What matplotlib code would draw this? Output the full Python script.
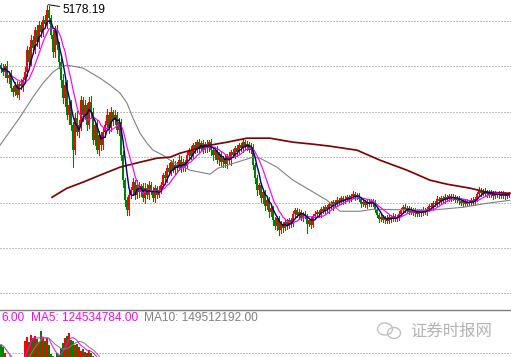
import numpy as np
import pandas as pd
import matplotlib
matplotlib.use("Agg")
import matplotlib.pyplot as plt
from matplotlib.lines import Line2D
from matplotlib.patches import Ellipse
from matplotlib.transforms import IdentityTransform

# ---------------- data ----------------
close = [
    4480, 4436, 4502, 4370, 4403, 4260, 4216, 4293, 4183, 4304,
    4282, 4348, 4436, 4678, 4546, 4788, 4700, 4898, 4766, 4953,
    4876, 5008, 4964, 5118, 5030, 4843, 4656, 4898, 4733, 4546,
    4348, 4150, 4293, 3963, 4073, 3853, 3578, 3930, 3776, 3853,
    4128, 3963, 4073, 3853, 4106, 3996, 3688, 3853, 3578, 3743,
    3633, 3776, 3853, 3963, 3820, 3996, 3908, 3963, 3798, 3886,
    3523, 3248, 3028, 2918, 3083, 3138, 3226, 3083, 3193, 3116,
    3182, 3050, 3160, 3083, 3193, 3116, 3050, 3160, 3083, 3138,
    3193, 3303, 3270, 3380, 3336, 3446, 3358, 3413, 3380, 3468,
    3380, 3446, 3402, 3523, 3578, 3512, 3633, 3578, 3666, 3600,
    3655, 3578, 3644, 3600, 3666, 3578, 3523, 3578, 3468, 3534,
    3446, 3490, 3424, 3512, 3468, 3556, 3523, 3600, 3556, 3633,
    3600, 3666, 3611, 3644, 3578, 3611, 3413, 3270, 3138, 3193,
    3050, 3116, 2962, 3028, 2896, 2940, 2808, 2742, 2830, 2698,
    2764, 2720, 2786, 2742, 2808, 2764, 2874, 2918, 2863, 2896,
    2830, 2874, 2852, 2764, 2808, 2753, 2852, 2874, 2896, 2874,
    2929, 2907, 2951, 2929, 2984, 2962, 3006, 2984, 3028, 3006,
    3050, 3017, 3039, 3061, 3039, 3072, 3094, 3061, 3083, 3039,
    2984, 3006, 2973, 3006, 2984, 3017, 2995, 2918, 2863, 2819,
    2841, 2808, 2830, 2797, 2841, 2819, 2852, 2819, 2841, 2874,
    2918, 2951, 2918, 2940, 2896, 2918, 2885, 2907, 2874, 2907,
    2885, 2918, 2896, 2929, 2962, 2951, 2995, 2984, 3039, 3017,
    3050, 3028, 3061, 3039, 3072, 3050, 3061, 3028, 3050, 3017,
    2995, 3017, 2984, 3006, 2995, 3028, 3006, 3039, 3094, 3138,
    3105, 3127, 3094, 3116, 3083, 3105, 3072, 3094, 3083, 3105,
    3072, 3094, 3072, 3083, 3094,
]
first_open = 4510

upper_shadow = [
    30, 40, 20, 50, 30, 60, 20, 30, 40, 20,
    50, 30, 60, 40, 30, 50, 40, 30, 60, 40,
    30, 40, 50, 60, 40, 30, 60, 40, 50, 30,
    40, 70, 30, 50, 40, 60, 30, 60, 80, 50,
    40, 30, 60, 20, 50, 70, 40, 30, 60, 40,
    30, 60, 40, 70, 30, 50, 20, 60, 30, 40,
    30, 40, 20, 30, 50, 30, 40, 20, 60, 30,
    20, 30, 50, 40, 40, 30, 50, 30, 20, 40,
    30, 20, 40, 30, 50, 20, 30, 40, 30, 60,
    40, 30, 20, 30, 20, 40, 20, 30, 20, 30,
    20, 30, 20, 40, 20, 30, 20, 30, 40, 20,
    30, 20, 30, 20, 40, 20, 30, 20, 30, 20,
    20, 30, 20, 30, 20, 40, 30, 20, 30, 20,
    20, 30, 20, 20, 30, 20, 20, 30, 20, 20,
    30, 20, 20, 30, 20, 20, 30, 20, 20, 30,
    20, 20, 30, 20, 20, 30, 20, 30, 20, 20,
    20, 30, 20, 20, 20, 30, 20, 20, 30, 20,
    20, 20, 30, 20, 20, 20, 30, 20, 20, 20,
    20, 30, 20, 20, 30, 20, 20, 30, 20, 20,
    30, 20, 20, 30, 20, 20, 30, 20, 20, 30,
    20, 20, 30, 20, 20, 30, 20, 30, 20, 20,
    20, 30, 20, 20, 20, 30, 20, 20, 30, 20,
    20, 20, 30, 20, 20, 20, 30, 20, 20, 20,
    30, 20, 20, 30, 20, 20, 30, 20, 20, 30,
    20, 20, 30, 20, 20, 30, 20, 30, 20, 20,
    20, 30, 20, 20, 20,
]
lower_shadow = [
    40, 30, 60, 40, 50, 30, 40, 30, 20, 40,
    30, 50, 30, 40, 60, 30, 50, 60, 40, 70,
    50, 40, 30, 40, 60, 30, 50, 60, 40, 70,
    80, 60, 90, 40, 100, 60, 187, 40, 30, 60,
    50, 70, 40, 60, 30, 50, 40, 60, 30, 50,
    60, 40, 50, 40, 60, 30, 50, 40, 30, 50,
    60, 80, 70, 55, 60, 30, 50, 40, 30, 50,
    40, 30, 60, 30, 40, 20, 30, 40, 30, 20,
    30, 20, 30, 40, 20, 30, 20, 40, 30, 20,
    40, 30, 60, 20, 40, 30, 20, 30, 20, 40,
    20, 30, 20, 40, 30, 50, 60, 40, 30, 50,
    40, 60, 30, 40, 30, 50, 20, 30, 40, 20,
    30, 40, 20, 30, 20, 30, 40, 60, 50, 40,
    40, 60, 40, 30, 50, 40, 60, 30, 40, 55,
    30, 40, 20, 30, 20, 30, 20, 30, 20, 30,
    20, 30, 20, 99, 20, 30, 20, 30, 20, 30,
    30, 20, 20, 30, 40, 30, 40, 30, 20, 30,
    20, 30, 20, 20, 30, 20, 20, 30, 20, 20,
    30, 20, 20, 30, 20, 20, 30, 20, 20, 30,
    20, 20, 30, 20, 20, 30, 20, 20, 20, 30,
    20, 30, 20, 20, 20, 20, 20, 30, 20, 20,
    30, 20, 20, 30, 20, 20, 30, 20, 20, 30,
    20, 20, 30, 20, 20, 30, 20, 20, 20, 30,
    20, 30, 20, 20, 20, 20, 20, 30, 20, 20,
    30, 20, 20, 30, 20, 20, 30, 20, 20, 30,
    20, 20, 30, 20, 20,
]

# volume, in 1e8 shares
volume = [
    9.9, 9.6, 9.0, 8.2, 7.8, 7.2, 7.0, 7.2, 7.5, 7.8,
    8.2, 8.5, 10.3, 10.8, 10.2, 11.0, 10.6, 10.9, 10.5, 10.2,
    11.4, 10.8, 10.3, 10.6, 9.8, 8.8, 8.6, 8.4, 8.9, 8.7,
    9.5, 10.1, 10.6, 10.9, 11.2, 10.4, 10.3, 9.9, 10.0, 9.6,
    9.2, 9.4, 9.1, 8.9, 9.3, 9.0, 8.6, 8.0, 7.4, 7.0,
    6.5, 6.0, 5.6, 5.2, 5.0, 4.8, 4.5, 4.6, 4.4, 5.0,
    6.2, 6.8, 6.0, 5.0, 4.5, 4.2, 3.9, 3.7, 3.5, 3.3,
    3.2, 3.0, 2.9, 2.8, 3.0, 2.7, 2.6, 2.7, 2.8, 2.6,
    3.0, 3.4, 3.6, 3.2, 3.5, 3.3, 3.6, 3.4, 3.8, 3.5,
    3.6, 3.9, 3.7, 4.2, 4.0, 3.8, 4.1, 3.9, 3.6, 3.5,
    3.4, 3.3, 3.5, 3.2, 3.4, 3.3, 3.1, 3.0, 2.9, 3.0,
    2.9, 2.8, 3.0, 2.8, 2.9, 3.1, 3.2, 3.4, 3.3, 3.5,
    3.3, 3.5, 3.2, 3.0, 3.1, 2.9, 3.6, 4.0, 3.5, 3.0,
    2.6, 2.4, 2.2, 2.1, 2.0, 1.9, 2.0, 2.4, 2.1, 2.6,
    2.0, 1.8, 1.7, 1.8, 1.6, 1.7, 1.8, 1.9, 1.8, 1.7,
    1.7, 1.6, 1.8, 2.0, 1.6, 1.5, 1.6, 1.7, 1.8, 1.6,
    1.7, 1.8, 1.9, 1.8, 2.0, 1.9, 2.1, 2.0, 2.1, 2.0,
    2.0, 1.9, 2.1, 2.0, 1.8, 1.9, 2.0, 2.2, 2.0, 1.8,
    1.7, 1.6, 1.5, 1.6, 1.5, 1.7, 1.6, 1.8, 1.6, 1.4,
    1.3, 1.4, 1.3, 1.5, 1.4, 1.3, 1.4, 1.3, 1.5, 1.6,
    1.5, 1.4, 1.5, 1.3, 1.4, 1.4, 1.3, 1.5, 1.4, 1.4,
    1.4, 1.3, 1.5, 1.6, 1.7, 1.8, 1.6, 1.5, 1.4, 1.5,
    1.6, 1.5, 1.4, 1.3, 1.4, 1.5, 1.4, 1.3, 1.5, 1.4,
    1.3, 1.4, 1.3, 1.4, 1.5, 1.4, 1.3, 1.5, 1.6, 1.7,
    1.5, 1.4, 1.3, 1.4, 1.2, 1.3, 1.2, 1.3, 1.2, 1.2,
    1.3, 1.2, 1.1, 1.2, 1.3,
]

# long moving averages (candle index, level)
ma60_idx = [-0.5, 9.5, 16, 21, 26, 29.5, 33, 41, 49.5, 54.5, 59.5, 63, 66, 69.5,
            73, 76, 81, 86, 94.5, 99.5, 104.5, 108.5, 118, 126, 129.5, 138, 146,
            154.5, 163, 169.5, 179.5, 186, 214.5, 231, 243, 254.5]
ma60_val = [3631, 3939, 4160, 4314, 4435, 4490, 4512, 4479, 4369, 4292, 4204, 4094,
            3928, 3763, 3653, 3576, 3521, 3444, 3356, 3334, 3312, 3378, 3444, 3499,
            3488, 3389, 3246, 3136, 3025, 2904, 2904, 2926, 2915, 2948, 2992, 3025]
ma250_idx = [25.5, 33, 41, 49.5, 59.5, 69.5, 78, 84.5, 89.5, 104.5, 113, 123, 134.5,
             146, 156, 164.5, 178, 189.5, 203, 214.5, 223, 234.5, 243, 254.5]
ma250_val = [3058, 3158, 3224, 3301, 3389, 3444, 3488, 3499, 3543, 3631, 3664, 3708,
             3708, 3664, 3642, 3620, 3576, 3466, 3356, 3246, 3202, 3158, 3114, 3102]

grid_levels = [2000, 2500, 3000, 3500, 4000, 4500, 5000]
vol_grid = [9.0]
peak_label = "5178.19"
vol_texts = [("6.00", "#ff00ff"), ("MA5: 124534784.00", "#ff00ff"),
             ("MA10: 149512192.00", "#808080")]
watermark = "证券时报网"

# ---------------- derived ----------------
close = np.array(close, dtype=float)
n = len(close)
idx = np.arange(n)
opn = np.r_[first_open, close[:-1]]
high = np.maximum(opn, close) + np.array(upper_shadow)
low = np.minimum(opn, close) - np.array(lower_shadow)
up = close >= opn
cols = np.where(up, "#ff0000", "#008000")
ma5 = pd.Series(close).rolling(5, min_periods=1).mean()
ma10 = pd.Series(close).rolling(10, min_periods=1).mean()
vol = np.array(volume) * 1e8
vma5 = pd.Series(vol).rolling(5, min_periods=1).mean()
vma10 = pd.Series(vol).rolling(10, min_periods=1).mean()

W, H = 511, 357
STEP = 2.0  # pixels per candle
fig = plt.figure(figsize=(W / 100, H / 100), dpi=100)
fig.patch.set_facecolor("white")

PX = 0.72  # one pixel in points

# main price panel
ax = fig.add_axes([0, 1 - 310 / H, 1, 310 / H])
ax.set_xlim(-0.5, -0.5 + W / STEP)
ax.set_ylim(5228 - 11.0 * 310, 5228)
for s in ax.spines.values():
    s.set_visible(False)
ax.set_xticks([])
ax.set_yticks(grid_levels)
ax.tick_params(left=False, labelleft=False)
ax.yaxis.grid(True, linestyle=(0, (1, 2)), color="#808080", linewidth=PX)
ax.set_axisbelow(True)

ax.vlines(idx, low, high, colors=cols, linewidth=PX, antialiased=False)
ax.vlines(idx, opn, close, colors=cols, linewidth=1.5 * PX, antialiased=False)

ax.plot(ma60_idx, ma60_val, color="#808080", linewidth=1.1 * PX)
ax.plot(ma250_idx, ma250_val, color="#800000", linewidth=1.7 * PX)
ax.plot(idx, ma10, color="#ff00ff", linewidth=1.2 * PX)
ax.plot(idx, ma5, color="#000080", linewidth=1.4 * PX)

pk = int(np.argmax(high))
ax.annotate(peak_label, xy=(idx[pk], high[pk]), xytext=(11, -4),
            textcoords="offset points", va="center", ha="left",
            fontsize=8.6, family="Liberation Sans", color="black",
            arrowprops=dict(arrowstyle="-", color="black", lw=0.7,
                            shrinkA=0, shrinkB=1))

# separator
fig.add_artist(Line2D([0, 1], [1 - 310 / H] * 2, transform=fig.transFigure,
                      color="#808080", linewidth=1.0))

# volume panel (partly below the picture edge)
axv = fig.add_axes([0, 1 - 432 / H, 1, 106 / H])
axv.set_xlim(-0.5, -0.5 + W / STEP)
axv.set_ylim(0, 12e8)
for s in axv.spines.values():
    s.set_visible(False)
axv.set_xticks([])
axv.set_yticks([v * 1e8 for v in vol_grid])
axv.tick_params(left=False, labelleft=False)
axv.yaxis.grid(True, linestyle=(0, (1, 2)), color="#808080", linewidth=PX)
axv.set_axisbelow(True)
axv.bar(idx, vol, width=0.6, color=cols, linewidth=0)
axv.plot(idx, vma5, color="#ff00ff", linewidth=PX)
axv.plot(idx, vma10, color="#808080", linewidth=PX)

# text row
xs = [1, 31, 144]
for (t, c), x in zip(vol_texts, xs):
    fig.text(x / W, 1 - 318 / H, t, color=c, fontsize=8.6,
             family="Liberation Sans", va="center", ha="left")

# watermark
fig.text(410 / W, 1 - 331 / H, watermark, color="#b4b4b4", fontsize=11.8,
         family=["Noto Sans CJK SC", "DejaVu Sans"], va="center", ha="left")
for (cx, cy, ew, eh) in [(385, 329, 15, 12), (394, 333, 13, 11)]:
    fig.add_artist(Ellipse((cx, H - cy), ew, eh, transform=IdentityTransform(),
                           fill=False, edgecolor="#c0c0c0", linewidth=1.0))

fig.savefig("out.png", dpi=100)
